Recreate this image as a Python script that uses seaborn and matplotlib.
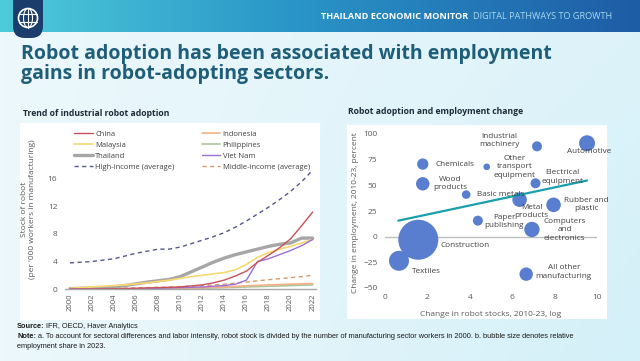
import numpy as np
import pandas as pd
import matplotlib
matplotlib.use("Agg")
import matplotlib.pyplot as plt
import seaborn as sns
from matplotlib.patches import Rectangle, FancyBboxPatch, Circle, Ellipse

sns.set_theme(style="white")
plt.rcParams['font.family'] = ['Open Sans', 'DejaVu Sans']

# ---------------- data ----------------
years = list(range(2000, 2023))
china = [0.0, 0.0, 0.01, 0.02, 0.03, 0.05, 0.1, 0.15, 0.2, 0.25, 0.3, 0.45, 0.6, 0.9, 1.3, 1.9, 2.6, 3.9, 4.9, 6.0, 7.3, 9.2, 11.2]
indonesia = [0.0, 0.0, 0.01, 0.02, 0.03, 0.04, 0.05, 0.06, 0.08, 0.09, 0.1, 0.15, 0.2, 0.25, 0.3, 0.38, 0.45, 0.52, 0.6, 0.65, 0.7, 0.75, 0.8]
malaysia = [0.1, 0.2, 0.3, 0.4, 0.5, 0.6, 0.75, 0.9, 1.1, 1.3, 1.55, 1.8, 2.0, 2.2, 2.4, 2.8, 3.6, 4.6, 5.3, 5.8, 6.2, 6.7, 7.2]
philippines = [0.0, 0.0, 0.01, 0.01, 0.02, 0.02, 0.03, 0.04, 0.05, 0.06, 0.08, 0.1, 0.13, 0.16, 0.2, 0.25, 0.3, 0.35, 0.4, 0.45, 0.5, 0.55, 0.6]
thailand = [0.05, 0.1, 0.15, 0.2, 0.3, 0.5, 0.75, 1.0, 1.2, 1.4, 1.8, 2.5, 3.2, 3.9, 4.5, 5.0, 5.4, 5.8, 6.2, 6.5, 6.7, 7.4, 7.4]
vietnam = [0.0, 0.01, 0.02, 0.03, 0.04, 0.05, 0.06, 0.08, 0.1, 0.15, 0.2, 0.25, 0.3, 0.4, 0.5, 0.7, 1.3, 4.0, 4.4, 5.0, 5.6, 6.3, 7.2]
high_income = [3.8, 3.9, 4.0, 4.2, 4.4, 4.8, 5.2, 5.5, 5.8, 5.8, 6.1, 6.6, 7.1, 7.6, 8.2, 9.0, 9.9, 10.9, 11.9, 13.0, 14.2, 15.6, 17.3]
middle_income = [0.05, 0.06, 0.08, 0.1, 0.12, 0.15, 0.18, 0.2, 0.25, 0.28, 0.35, 0.42, 0.5, 0.6, 0.7, 0.85, 1.0, 1.2, 1.35, 1.5, 1.65, 1.8, 2.0]
year_ticks = list(range(2000, 2023, 2))
left_yticks = [0, 4, 8, 12, 16]

sectors = ["Industrial\nmachinery", "Automotive", "Chemicals", "Other\ntransport\nequipment",
           "Wood\nproducts", "Electrical\nequipment", "Basic metals", "Metal\nproducts",
           "Rubber and\nplastic", "Paper\npublishing", "Computers\nand\nelectronics",
           "Construction", "Textiles", "All other\nmanufacturing"]
robot_change = [7.17, 9.53, 1.78, 4.80, 1.78, 7.10, 3.83, 6.35, 7.95, 4.38, 6.93, 1.57, 0.66, 6.66]
emp_change = [88, 91, 70.7, 68, 51.5, 52, 41, 36, 31, 15.6, 7, -3, -23.5, -36.5]
emp_share = [2.5, 6.4, 3.2, 1.1, 4.5, 2.5, 1.85, 5.3, 5.3, 2.5, 5.9, 40.0, 10.0, 4.5]
trend_x = [0.63, 9.53]
trend_y = [15.6, 54.7]
right_xticks = [0, 2, 4, 6, 8, 10]
right_yticks = [-50, -25, 0, 25, 50, 75, 100]

# ---------------- layout / style ----------------
W, H = 640, 361
label_layout = {  # x, y, ha in data coords
    "Industrial\nmachinery": (5.4, 93.5, "center"),
    "Automotive": (8.6, 83, "left"),
    "Chemicals": (2.36, 70, "left"),
    "Other\ntransport\nequipment": (6.1, 68, "center"),
    "Wood\nproducts": (3.07, 51.8, "center"),
    "Electrical\nequipment": (8.38, 58, "center"),
    "Basic metals": (4.33, 40.7, "left"),
    "Metal\nproducts": (6.92, 24.8, "center"),
    "Rubber and\nplastic": (9.48, 31, "center"),
    "Paper\npublishing": (5.62, 15, "center"),
    "Computers\nand\nelectronics": (8.47, 6.5, "center"),
    "Construction": (2.63, -8.8, "left"),
    "Textiles": (1.28, -33.5, "left"),
    "All other\nmanufacturing": (8.43, -34.5, "center"),
}

fig = plt.figure(figsize=(W / 100, H / 100), dpi=100)

# background axes in pixel coords (y down)
bg = fig.add_axes([0, 0, 1, 1])
bg.set_xlim(0, W)
bg.set_ylim(H, 0)
bg.axis("off")

c1 = np.array([0xEC, 0xF8, 0xFC]) / 255
c2 = np.array([0xD4, 0xF0, 0xF8]) / 255
t = np.linspace(0, 1, 200)[None, :, None]
tv = np.linspace(0, 1, 100)[:, None, None]
grad = c1 * (1 - 0.6 * t - 0.4 * tv * t) + c2 * (0.6 * t + 0.4 * tv * t)
bg.imshow(np.clip(grad, 0, 1), extent=[0, W, H, 0], aspect="auto", zorder=0)

h1 = np.array([0x4E, 0xCB, 0xDA]) / 255
h2 = np.array([0x2A, 0x96, 0xC8]) / 255
h3 = np.array([0x1E, 0x5C, 0xA6]) / 255
tt = np.linspace(0, 1, 300)
hg = np.where(tt[:, None] < 0.45, h1 + (h2 - h1) * (tt[:, None] / 0.45), h2 + (h3 - h2) * ((tt[:, None] - 0.45) / 0.55))
bg.imshow(hg[None, :, :], extent=[0, W, 32, 0], aspect="auto", zorder=1)

# logo
bg.add_patch(FancyBboxPatch((13, -12), 30, 50, boxstyle="round,pad=0,rounding_size=12",
                            fc="#1B3D6B", ec="none", zorder=2))
bg.add_patch(Circle((28, 18), 9.5, fc="none", ec="white", lw=1.2, zorder=3))
bg.add_patch(Ellipse((28, 18), 9, 19, fc="none", ec="white", lw=0.8, zorder=3))
bg.plot([28, 28], [8.5, 27.5], color="white", lw=0.8, zorder=3)
bg.plot([19.5, 36.5], [14, 14], color="white", lw=0.8, zorder=3)
bg.plot([19.5, 36.5], [22, 22], color="white", lw=0.8, zorder=3)

bg.text(321, 16.5, "THAILAND ECONOMIC MONITOR", color="white", fontsize=6.6,
        fontweight="bold", va="center", ha="left", zorder=3)
bg.text(473, 16.5, "DIGITAL PATHWAYS TO GROWTH", color="#A8D8F0", fontsize=6.6,
        va="center", ha="left", zorder=3)

bg.text(21, 64, "Robot adoption has been associated with employment\ngains in robot-adopting sectors.",
        color="#1F5E79", fontsize=14, fontweight="bold", va="center", ha="left",
        linespacing=1.04, zorder=3)

# white panels
bg.add_patch(Rectangle((20, 123), 300, 197, fc="white", ec="none", zorder=2))
bg.add_patch(Rectangle((347, 125), 260, 194, fc="white", ec="none", zorder=2))

bg.text(23, 114, "Trend of industrial robot adoption", fontsize=6.2, fontweight="bold",
        color="#1E2B38", va="center", ha="left", zorder=3)
bg.text(348, 111, "Robot adoption and employment change", fontsize=6.2, fontweight="bold",
        color="#1E2B38", va="center", ha="left", zorder=3)

# source / note
note_font = ['Liberation Sans', 'DejaVu Sans']
note_size = 5.35
fig.canvas.draw()
rend = fig.canvas.get_renderer()
def bold_prefix(x, y, bold, rest):
    tb = bg.text(x, y, bold, fontsize=note_size, fontweight="bold", family=note_font,
                 color="#1A1A1A", va="center", ha="left", zorder=3)
    w = tb.get_window_extent(renderer=rend).width
    bg.text(x + w + 1.5, y, rest, fontsize=note_size, family=note_font,
            color="#1A1A1A", va="center", ha="left", zorder=3)
bold_prefix(17, 327, "Source:", "IFR, OECD, Haver Analytics")
bold_prefix(17, 337, "Note:", "a. To account for sectoral differences and labor intensity, robot stock is divided by the number of manufacturing sector workers in 2000. b. bubble size denotes relative")
bg.text(17, 347, "employment share in 2023.", fontsize=note_size, family=note_font,
        color="#1A1A1A", va="center", ha="left", zorder=3)

# ---------------- left chart ----------------
tick_color = "#595959"
axL = fig.add_axes([65 / W, 1 - 289 / H, 251 / W, 162 / H])
axL.set_facecolor("none")

series = [
    ("High-income (average)", high_income, "#55578F", 1.0, (0, (3, 2.5))),
    ("Middle-income (average)", middle_income, "#D9956A", 1.0, (0, (3, 2.5))),
    ("Thailand", thailand, "#A6A6A6", 2.4, "-"),
    ("Philippines", philippines, "#A9C79A", 1.2, "-"),
    ("Indonesia", indonesia, "#F4B183", 1.2, "-"),
    ("Malaysia", malaysia, "#F9D86E", 1.2, "-"),
    ("Viet Nam", vietnam, "#9B6FD6", 1.0, "-"),
    ("China", china, "#C8505A", 1.0, "-"),
]
handles = {}
for name, vals, col, lw, ls in series:
    sns.lineplot(x=years, y=vals, ax=axL, color=col, linewidth=lw, label=name)
    line = axL.get_lines()[-1]
    line.set_linestyle(ls)
    handles[name] = line

order = ["China", "Malaysia", "Thailand", "High-income (average)",
         "Indonesia", "Philippines", "Viet Nam", "Middle-income (average)"]
axL.legend([handles[n] for n in order], order, ncol=2, loc="upper left",
           bbox_to_anchor=(0.01, 1.022), frameon=False, fontsize=5.5, handlelength=2.4,
           handletextpad=0.3, columnspacing=3.6, labelspacing=0.5, labelcolor="#404040")

axL.set_xlim(1999.55, 2022.3)
axL.set_ylim(0, 23.56)
axL.set_xticks(year_ticks)
axL.set_xticklabels([str(y) for y in year_ticks], rotation=90)
axL.set_yticks(left_yticks)
axL.tick_params(axis="x", length=0, pad=3, labelsize=5.6, colors=tick_color)
axL.tick_params(axis="y", length=0, pad=5.5, labelsize=6, colors=tick_color)
for s in ["top", "right", "left"]:
    axL.spines[s].set_visible(False)
axL.spines["bottom"].set_color("#A6A6A6")
axL.spines["bottom"].set_linewidth(1.0)
axL.set_xlabel("")
axL.set_ylabel("Stock of robot\n(per '000 workers in manufacturing)", fontsize=6,
               color=tick_color, linespacing=1.15)
axL.yaxis.set_label_coords(-0.115, 0.49)
axL.grid(False)

# ---------------- right chart ----------------
axR = fig.add_axes([385 / W, 1 - 288 / H, 212 / W, 154 / H])
axR.set_facecolor("none")
df = pd.DataFrame({"sector": sectors, "robot": robot_change, "emp": emp_change, "share": emp_share})
axR.axhline(0, color="#BFBFBF", lw=1.0, zorder=1)
sns.scatterplot(data=df, x="robot", y="emp", size="share", sizes=(0, 829),
                size_norm=(0, max(emp_share)), color="#5A7ECF", edgecolor="none",
                alpha=1.0, legend=False, ax=axR, zorder=2)
sns.lineplot(x=trend_x, y=trend_y, ax=axR, color="#1AA0AC", linewidth=1.6, zorder=3)

for name in sectors:
    x, y, ha = label_layout[name]
    axR.text(x, y, name, fontsize=5.9, color="#404040", ha=ha, va="center",
             linespacing=1.25, zorder=4)

axR.set_xlim(0, 10)
axR.set_ylim(-50, 100)
axR.set_xticks(right_xticks)
axR.set_yticks(right_yticks)
axR.tick_params(axis="x", length=0, pad=4, labelsize=6, colors=tick_color)
axR.tick_params(axis="y", length=0, pad=5.5, labelsize=6, colors=tick_color)
for s in axR.spines.values():
    s.set_visible(False)
axR.set_xlabel("Change in robot stocks, 2010-23, log", fontsize=6, color=tick_color)
axR.xaxis.set_label_coords(0.5, -0.15)
axR.set_ylabel("Change in employment, 2010-23, percent", fontsize=6, color=tick_color)
axR.yaxis.set_label_coords(-0.123, 0.49)
axR.grid(False)

fig.savefig("out.png", dpi=100)
